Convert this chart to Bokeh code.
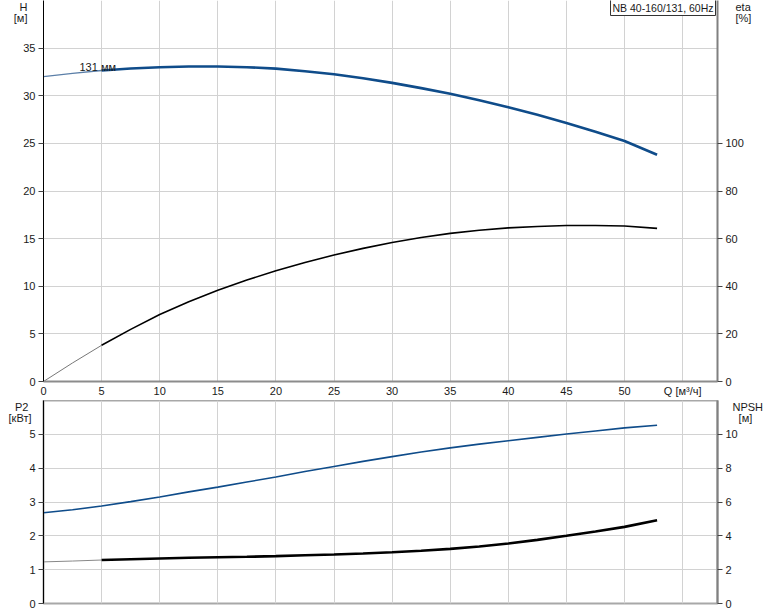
from bokeh.plotting import figure
from bokeh.models import Range1d, LinearAxis, FixedTicker, Label
from bokeh.layouts import column
from bokeh.embed import file_html
from bokeh.resources import INLINE

# ---- data ----
q_h = [0, 2.5, 5, 7.5, 10, 12.5, 15, 17.5, 20, 22.5, 25, 27.5, 30, 32.5, 35, 37.5, 40,
       42.5, 45, 47.5, 50, 52.8]
head = [32.0, 32.35, 32.65, 32.86, 33.0, 33.07, 33.07, 33.0, 32.85, 32.58, 32.25, 31.83,
        31.35, 30.8, 30.2, 29.52, 28.8, 28.0, 27.15, 26.22, 25.25, 23.8]

q_eta = [0, 2.5, 5, 7.5, 10, 12.5, 15, 17.5, 20, 22.5, 25, 27.5, 30, 32.5, 35, 37.5, 40,
         42.5, 45, 47.5, 50, 52.8]
eta = [0, 7.8, 15.2, 21.9, 28.1, 33.5, 38.3, 42.6, 46.5, 50.0, 53.1, 55.9, 58.4, 60.5,
       62.2, 63.5, 64.5, 65.1, 65.5, 65.5, 65.3, 64.3]

q_p = [0, 2.5, 5, 7.5, 10, 12.5, 15, 17.5, 20, 22.5, 25, 27.5, 30, 32.5, 35, 37.5, 40,
       42.5, 45, 47.5, 50, 52.8]
p2 = [2.68, 2.77, 2.88, 3.01, 3.15, 3.3, 3.44, 3.59, 3.74, 3.9, 4.05, 4.2, 4.34, 4.48,
      4.6, 4.71, 4.81, 4.91, 5.01, 5.1, 5.19, 5.27]
npsh = [2.46, 2.51, 2.57, 2.62, 2.66, 2.7, 2.73, 2.76, 2.8, 2.85, 2.9, 2.96, 3.03, 3.12,
        3.23, 3.37, 3.55, 3.76, 4.0, 4.26, 4.53, 4.92]

x_ticks = [0, 5, 10, 15, 20, 25, 30, 35, 40, 45, 50, 55]
h_ticks = [0, 5, 10, 15, 20, 25, 30, 35]
eta_ticks = [0, 20, 40, 60, 80, 100]
p2_ticks = [0, 1, 2, 3, 4, 5]
npsh_ticks = [0, 2, 4, 6, 8, 10]

title_text = "NB 40-160/131, 60Hz"
curve_label = "131 мм"
q_label = "Q [м³/ч]"
NB = "\u00a0"
h_name, h_unit = "H", "[м]"
eta_name, eta_unit = "eta", "[%]"
p2_name, p2_unit = "P2" + NB, "[кВт]"
npsh_name, npsh_unit = "NPSH", NB + NB + "[м]"

BLUE = "#0f4c8a"
FONT = "Liberation Sans"
FS = "11px"
TXT = "#1a1a1a"
GRID = "#d2d2d2"

FRAME_L = 43


def split(q, v, qs=5):
    a = [(x, y) for x, y in zip(q, v) if x <= qs]
    b = [(x, y) for x, y in zip(q, v) if x >= qs]
    return ([x for x, _ in a], [y for _, y in a]), ([x for x, _ in b], [y for _, y in b])


def style_axis(ax, line_color, line_width, tick_out=5):
    ax.axis_line_color = line_color
    ax.axis_line_width = line_width
    ax.major_tick_out = tick_out
    ax.major_tick_in = 0
    ax.major_tick_line_color = "#444444"
    ax.minor_tick_line_color = None
    ax.major_label_text_font = FONT
    ax.major_label_text_font_size = FS
    ax.major_label_text_color = TXT
    ax.major_label_standoff = 3


def name_axis(p, side, labels, standoff, range_name="default"):
    # an axis with no line and no ticks that only carries the quantity name and unit
    ticks = [v for v, _ in labels]
    ax = LinearAxis(y_range_name=range_name, ticker=FixedTicker(ticks=ticks),
                    major_label_overrides={v: s for v, s in labels})
    style_axis(ax, None, 1, tick_out=0)
    ax.major_tick_line_color = None
    ax.major_label_standoff = standoff
    p.add_layout(ax, side)
    return ax


def stxt(p, px, py, frame_bottom, s, align="center", baseline="middle", **kw):
    # screen units relative to the frame (left, bottom)
    lab = Label(x=px - FRAME_L, y=frame_bottom - py, x_units="screen", y_units="screen",
                text=s, text_font=FONT, text_font_size=FS, text_color=TXT,
                text_align=align, text_baseline=baseline, **kw)
    p.add_layout(lab)
    return lab


# ---------------- top chart ----------------
p1 = figure(width=774, height=400, x_range=Range1d(0, 58), y_range=Range1d(0, 40),
            output_backend="svg", toolbar_location=None,
            min_border_left=FRAME_L, min_border_right=57, min_border_top=0, min_border_bottom=19)
p1.outline_line_color = None
p1.background_fill_color = "white"
p1.border_fill_color = "white"

p1.xaxis.ticker = FixedTicker(ticks=x_ticks)
p1.xaxis.major_label_overrides = {55: q_label}
style_axis(p1.xaxis[0], "#8c8c8c", 2, tick_out=0)
p1.yaxis.ticker = FixedTicker(ticks=h_ticks)
style_axis(p1.yaxis[0], "black", 1)
p1.xgrid.ticker = FixedTicker(ticks=x_ticks)
p1.ygrid.ticker = FixedTicker(ticks=h_ticks + [40])
for g in (p1.xgrid[0], p1.ygrid[0]):
    g.grid_line_color = GRID
    g.grid_line_width = 1

p1.extra_y_ranges = {"eta": Range1d(0, 160)}
ax_eta = LinearAxis(y_range_name="eta", ticker=FixedTicker(ticks=eta_ticks))
style_axis(ax_eta, "#808080", 2)
p1.add_layout(ax_eta, "right")

# name/unit labels: top chart pixel scale 9.525 px per metre, frame bottom at 381
name_axis(p1, "left", [(39.42, h_name), (38.16, h_unit)], -7)
name_axis(p1, "right", [(39.42, eta_name), (38.16, eta_unit)], -11)

(h_a, h_b) = split(q_h, head)
p1.line(h_a[0], h_a[1], line_color="#5b7fa8", line_width=1.3)
p1.line(h_b[0], h_b[1], line_color=BLUE, line_width=2.6)

(e_a, e_b) = split(q_eta, eta)
p1.line(e_a[0], e_a[1], line_color="#777777", line_width=1.0, y_range_name="eta")
p1.line(e_b[0], e_b[1], line_color="black", line_width=1.6, y_range_name="eta")

F1B = 381  # frame bottom of top chart, page pixels
stxt(p1, 79, 66, F1B, curve_label, align="left")
t = stxt(p1, 715, -1, F1B, title_text, align="right", baseline="top",
         border_line_color="#333333", border_line_width=1,
         background_fill_color="white", padding=2)
t.text_font_size = "10.5px"

# ---------------- bottom chart ----------------
p2f = figure(width=774, height=211, x_range=p1.x_range, y_range=Range1d(0, 6),
             output_backend="svg", toolbar_location=None,
             min_border_left=FRAME_L, min_border_right=57, min_border_top=0, min_border_bottom=8)
p2f.outline_line_color = "#a8a8a8"
p2f.outline_line_width = 2
p2f.background_fill_color = "white"
p2f.border_fill_color = "white"

p2f.xaxis.visible = False
p2f.yaxis.ticker = FixedTicker(ticks=p2_ticks)
style_axis(p2f.yaxis[0], "black", 1)
p2f.xgrid.ticker = FixedTicker(ticks=x_ticks)
p2f.ygrid.ticker = FixedTicker(ticks=p2_ticks + [6])
for g in (p2f.xgrid[0], p2f.ygrid[0]):
    g.grid_line_color = GRID
    g.grid_line_width = 1

p2f.extra_y_ranges = {"npsh": Range1d(0, 12)}
ax_npsh = LinearAxis(y_range_name="npsh", ticker=FixedTicker(ticks=npsh_ticks))
style_axis(ax_npsh, "#808080", 2)
p2f.add_layout(ax_npsh, "right")

# bottom chart: 33.83 px per kW, frame from 400 to 603
name_axis(p2f, "left", [(5.823, p2_name), (5.483, p2_unit)], -5)
name_axis(p2f, "right", [(5.823, npsh_name), (5.483, npsh_unit)], -8)

p2f.line(q_p, p2, line_color=BLUE, line_width=1.6)
(n_a, n_b) = split(q_p, npsh)
p2f.line(n_a[0], n_a[1], line_color="#888888", line_width=1.0, y_range_name="npsh")
p2f.line(n_b[0], n_b[1], line_color="black", line_width=2.6, y_range_name="npsh")

layout = column(p1, p2f, spacing=0)

open("out.html", "w").write(file_html(layout, INLINE))
